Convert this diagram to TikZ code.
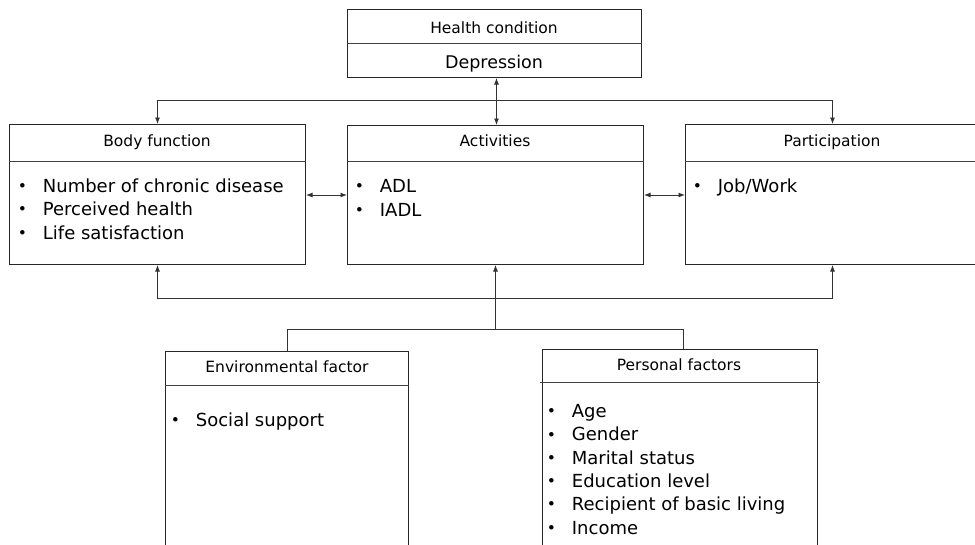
\documentclass[tikz,border=0pt]{standalone}
\usepackage{fontspec}
\setmainfont{DejaVu Sans}
\usetikzlibrary{arrows.meta}
\newcommand\itembul[1]{\makebox[26pt][l]{\hspace{0.9pt}\raisebox{0.8pt}{\fontsize{15.5}{15.5}\selectfont •}}#1}
\begin{document}
\begin{tikzpicture}[x=1pt,y=-1pt,
 box/.style={draw=black!85, line width=1pt, rectangle, anchor=north west, inner sep=0},
 ttl/.style={anchor=base, inner sep=0, font=\fontsize{15.5}{18}\selectfont},
 itm/.style={anchor=base west, inner sep=0, font=\fontsize{18}{23}\selectfont},
 arr/.style={line width=0.9pt, draw=black!80, -{Latex[length=6.5pt,width=5pt]}},
 dbl/.style={line width=0.9pt, draw=black!80, {Latex[length=6.5pt,width=5pt]}-{Latex[length=6.5pt,width=5pt]}},
 ln/.style={line width=0.9pt, draw=black!80},
 dv/.style={line width=0.9pt, draw=black!75}]
\useasboundingbox (0,0) rectangle (975,544);
\clip (0,0) rectangle (975,544);
% boxes
\node[box, minimum width=294pt, minimum height=68pt] (hc) at (347,9) {};
\node[box, minimum width=296pt, minimum height=140pt] (body) at (9,124) {};
\node[box, minimum width=296pt, minimum height=139pt] (act) at (347,125) {};
\node[box, minimum width=294pt, minimum height=140pt] (part) at (685,124) {};
\node[box, minimum width=243pt, minimum height=220pt] (env) at (165,351) {};
\node[box, minimum width=275pt, minimum height=220pt] (pers) at (542,349) {};
% dividers
\draw[dv] ([yshift=-34pt]hc.north west) -- ([yshift=-34pt]hc.north east);
\draw[dv] ([yshift=-37pt]body.north west) -- ([yshift=-37pt]body.north east);
\draw[dv] ([yshift=-36pt]act.north west) -- ([yshift=-36pt]act.north east);
\draw[dv] ([yshift=-37pt]part.north west) -- ([yshift=-37pt]part.north east);
\draw[dv] ([yshift=-34pt]env.north west) -- ([yshift=-34pt]env.north east);
\draw[dv] ([yshift=-33pt,xshift=-2pt]pers.north west) -- ([yshift=-33pt,xshift=2pt]pers.north east);
% titles
\node[ttl] (hct) at (494,33) {Health condition};
\node[anchor=base, inner sep=0, font=\fontsize{17.5}{20}\selectfont] (dep) at (494,68) {Depression};
\node[ttl] (bodyt) at (157,146) {Body function};
\node[ttl] (actt) at (495,146) {Activities};
\node[ttl] (partt) at (832,146) {Participation};
\node[ttl] (envt) at (287,372.5) {Environmental factor};
\node[ttl] (perst) at (679,370.5) {Personal factors};
% items
\foreach \t [count=\i] in {Number of chronic disease, Perceived health, Life satisfaction}
  \node[itm] (bf\i) at (16.7,{192+23.5*(\i-1)}) {\itembul{\t}};
\foreach \t [count=\i] in {ADL, IADL}
  \node[itm] (ac\i) at (353.7,{192.5+23.5*(\i-1)}) {\itembul{\t}};
\node[itm] (pa1) at (691.7,192) {\itembul{Job/Work}};
\node[itm] (en1) at (169.7,426.5) {\itembul{Social support}};
\foreach \t [count=\i] in {Age, Gender, Marital status, Education level, Recipient of basic living, Income}
  \node[itm] (pe\i) at (545.7,{417.5+23.3*(\i-1)}) {\itembul{\t}};
% connectors
\draw[dbl] ([xshift=2pt]hc.south) -- ([xshift=1pt]act.north);
\draw[dbl] (body.north) -- ++(0,-24) -| (part.north);
\draw[dbl] (body.south) -- ++(0,33) -| (part.south);
\draw[dbl] ([yshift=-71pt]body.north east) -- ([yshift=-70pt]act.north west);
\draw[dbl] ([yshift=-70pt]act.north east) -- ([yshift=-71pt]part.north west);
\path (env.north) ++(0,-22) coordinate (lb);
\draw[ln] (env.north) -- (lb) -| ([xshift=3.5pt]pers.north);
\draw[arr] (lb -| act.south) -- (act.south);
\end{tikzpicture}
\end{document}
